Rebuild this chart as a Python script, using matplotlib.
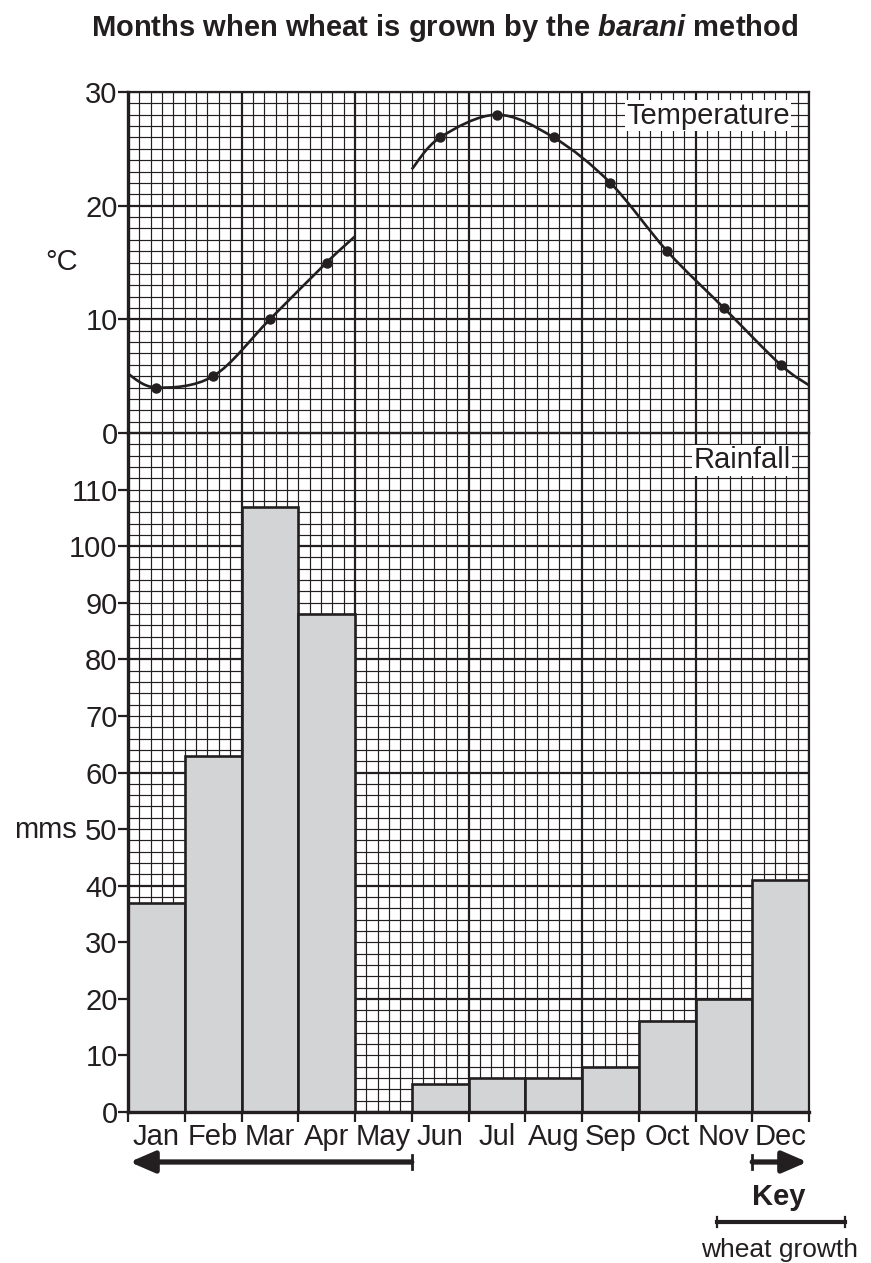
import numpy as np
import matplotlib
matplotlib.use('Agg')
import matplotlib.pyplot as plt
from matplotlib.path import Path
from matplotlib.patches import PathPatch
import matplotlib.transforms as mtransforms

plt.rcParams['font.family'] = ['Liberation Sans', 'DejaVu Sans']
plt.rcParams['mathtext.fontset'] = 'custom'
plt.rcParams['mathtext.it'] = 'Liberation Sans:italic:bold'
plt.rcParams['mathtext.rm'] = 'Liberation Sans:bold'

months = ['Jan', 'Feb', 'Mar', 'Apr', 'May', 'Jun',
          'Jul', 'Aug', 'Sep', 'Oct', 'Nov', 'Dec']
rainfall = [37, 63, 107, 88, 0, 5, 6, 6, 8, 16, 20, 41]

# monthly mean temperature, plotted mid-month (May missing)
temp_months_1 = [0, 1, 2, 3]
temp_values_1 = [4, 5, 10, 15]
temp_months_2 = [5, 6, 7, 8, 9, 10, 11]
temp_values_2 = [26, 28, 26, 22, 16, 11, 6]
# where the drawn curve starts / stops (month edges)
curve1_start, curve1_end = 5.2, 17.3
curve2_start, curve2_end = 23.2, 4.2

# wheat growing periods (month index start, end)
growth_left = (0, 5)
growth_right = (11, 12)

ink = '#231f20'
bar_grey = '#d3d4d6'
fs = 21

fig = plt.figure(figsize=(8.71, 12.63), dpi=100)
L, R = 128 / 871, 809 / 871
top_y, mid_y, bot_y = 92, 433, 1112
ax_t = fig.add_axes([L, 1 - mid_y / 1263, R - L, (mid_y - top_y) / 1263])
ax_r = fig.add_axes([L, 1 - bot_y / 1263, R - L, (bot_y - mid_y) / 1263])


def draw_grid(ax, ymax, minor_step, major_step):
    for x in np.arange(0, 12.01, 0.2):
        major = abs(x / 2 - round(x / 2)) < 1e-6
        ax.axvline(x, color=ink, lw=1.6 if major else 0.85, zorder=0.5)
    for y in np.arange(0, ymax + 0.01, minor_step):
        major = abs(y / major_step - round(y / major_step)) < 1e-6
        ax.axhline(y, color=ink, lw=1.6 if major else 0.85, zorder=0.5)


def smooth_path(xs, ys):
    pts = np.column_stack([xs, ys])
    verts = [pts[0]]
    codes = [Path.MOVETO]
    n = len(pts)
    for i in range(n - 1):
        p0 = pts[i - 1] if i > 0 else pts[i]
        p1 = pts[i]
        p2 = pts[i + 1]
        p3 = pts[i + 2] if i + 2 < n else pts[i + 1]
        c1 = p1 + (p2 - p0) / 6
        c2 = p2 - (p3 - p1) / 6
        verts += [c1, c2, p2]
        codes += [Path.CURVE4] * 3
    return Path(verts, codes)


# temperature panel
ax_t.set_xlim(0, 12)
ax_t.set_ylim(0, 30)
draw_grid(ax_t, 30, 1, 10)
x1 = [0] + [m + 0.5 for m in temp_months_1] + [4]
y1 = [curve1_start] + temp_values_1 + [curve1_end]
x2 = [5] + [m + 0.5 for m in temp_months_2] + [12]
y2 = [curve2_start] + temp_values_2 + [curve2_end]
for xs, ys in [(x1, y1), (x2, y2)]:
    ax_t.add_patch(PathPatch(smooth_path(xs, ys), facecolor='none',
                             edgecolor=ink, lw=1.9, zorder=3, clip_on=False))
ax_t.plot([m + 0.5 for m in temp_months_1 + temp_months_2],
          temp_values_1 + temp_values_2, 'o', color=ink, ms=6.5, zorder=4)
ax_t.set_yticks([0, 10, 20, 30])
ax_t.set_xticks([])
ax_t.text(11.66, 27.9, 'Temperature', ha='right', va='center', fontsize=fs,
          color=ink, zorder=5,
          bbox=dict(facecolor='white', edgecolor='none', pad=1))

# rainfall panel
ax_r.set_xlim(0, 12)
ax_r.set_ylim(0, 120)
draw_grid(ax_r, 120, 2, 20)
ax_r.bar(np.arange(12) + 0.5, rainfall, width=1.0, color=bar_grey,
         edgecolor=ink, lw=1.9, zorder=2)
ax_r.set_yticks(np.arange(0, 111, 10))
ax_r.set_xticks(np.arange(13))
ax_r.set_xticklabels([])
ax_r.set_xticks(np.arange(12) + 0.5, months, minor=True)
ax_r.text(11.68, 115.2, 'Rainfall', ha='right', va='center', fontsize=fs,
          color=ink, zorder=5,
          bbox=dict(facecolor='white', edgecolor='none', pad=1))

for ax in (ax_t, ax_r):
    ax.tick_params(axis='both', which='major', direction='out', length=7,
                   width=1.6, color=ink, labelsize=fs, labelcolor=ink, pad=0.5)
    for s in ax.spines.values():
        s.set_color(ink)
        s.set_linewidth(1.6)
        s.set_zorder(6)
    ax.spines['left'].set_linewidth(2.4)
ax_r.tick_params(axis='x', which='minor', length=0, pad=8, labelsize=fs,
                 labelcolor=ink)
ax_r.spines['bottom'].set_linewidth(2.4)
ax_t.spines['bottom'].set_visible(False)
ax_t.tick_params(axis='x', length=0)

fig.text(62 / 871, 1 - 262 / 1263, '°C', ha='center', va='center',
         fontsize=fs, color=ink)
fig.text(45 / 871, 1 - 830 / 1263, 'mms', ha='center', va='center',
         fontsize=fs, color=ink)

fig.text(445 / 871, 1 - 28 / 1263,
         'Months when wheat is grown by the $barani$ method',
         ha='center', va='center', fontsize=21, fontweight='bold', color=ink)

# growth arrows below the month axis
tr = mtransforms.blended_transform_factory(ax_r.transData, fig.transFigure)
ya = 1 - 1162 / 1263
arrow = dict(arrowstyle='-|>,head_length=1.5,head_width=0.65', color=ink,
             lw=3.8, shrinkA=0, shrinkB=0)
ax_r.annotate('', xy=(growth_left[0] + 0.03, ya), xytext=(growth_left[1], ya),
              xycoords=tr, textcoords=tr, arrowprops=arrow, annotation_clip=False)
ax_r.annotate('', xy=(growth_right[1] - 0.03, ya), xytext=(growth_right[0], ya),
              xycoords=tr, textcoords=tr, arrowprops=arrow, annotation_clip=False)
cap = 7 / 1263
for xc in (growth_left[1], growth_right[0]):
    ax_r.plot([xc, xc], [ya - cap, ya + cap], color=ink, lw=2, transform=tr,
              clip_on=False)

# key
fig.text(779 / 871, 1 - 1197 / 1263, 'Key', ha='center', va='center',
         fontsize=fs, fontweight='bold', color=ink)
yk = 1 - 1222 / 1263
fig.add_artist(plt.Line2D([717 / 871, 845 / 871], [yk, yk], color=ink, lw=3))
for xk in (717 / 871, 845 / 871):
    fig.add_artist(plt.Line2D([xk, xk], [yk - 5 / 1263, yk + 5 / 1263],
                              color=ink, lw=1.6))
fig.text(780 / 871, 1 - 1250 / 1263, 'wheat growth', ha='center', va='center',
         fontsize=19, color=ink)

fig.savefig('out.png', dpi=100)
